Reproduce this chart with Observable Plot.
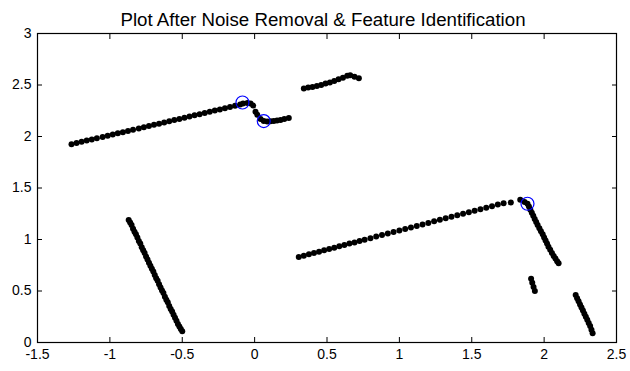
<!DOCTYPE html>
<html>
<head>
<meta charset="utf-8">
<script src="https://cdn.jsdelivr.net/npm/d3@7"></script>
<script src="https://cdn.jsdelivr.net/npm/@observablehq/plot@0.6"></script>
<style>
  html, body { margin: 0; padding: 0; background: #fff; }
  svg { display: block; }
</style>
</head>
<body>
<div id="chart"></div>
<script>
// Scan points that survived noise removal, grouped by wall segment (x, y in metres)
const wallUpperLeft = [
  [-1.265, 1.925], [-1.23, 1.937], [-1.195, 1.948], [-1.16, 1.96], [-1.125, 1.971],
  [-1.09, 1.983], [-1.05, 1.996], [-1.015, 2.008], [-0.98, 2.019], [-0.945, 2.031],
  [-0.91, 2.042], [-0.875, 2.054], [-0.84, 2.065], [-0.80, 2.078], [-0.765, 2.09],
  [-0.73, 2.102], [-0.695, 2.113], [-0.66, 2.125], [-0.625, 2.136], [-0.59, 2.148],
  [-0.555, 2.159], [-0.52, 2.171], [-0.485, 2.182], [-0.45, 2.194], [-0.415, 2.206],
  [-0.38, 2.217], [-0.345, 2.229], [-0.31, 2.24], [-0.275, 2.252], [-0.24, 2.263],
  [-0.205, 2.275], [-0.17, 2.287], [-0.135, 2.298], [-0.10, 2.31], [-0.08, 2.32],
  [-0.05, 2.325], [-0.028, 2.32], [-0.01, 2.30], [0.006, 2.24], [0.018, 2.21],
  [0.041, 2.17], [0.063, 2.15], [0.087, 2.145], [0.11, 2.147], [0.132, 2.15],
  [0.155, 2.155], [0.179, 2.16], [0.205, 2.17], [0.236, 2.18]
];
const wallUpperMid = [
  [0.34, 2.465], [0.37, 2.475], [0.40, 2.48], [0.43, 2.49], [0.46, 2.50],
  [0.49, 2.515], [0.52, 2.525], [0.55, 2.54], [0.58, 2.555], [0.61, 2.57],
  [0.64, 2.59], [0.66, 2.595], [0.69, 2.58], [0.72, 2.565]
];
const wallLowerLeft = [
  [-0.87, 1.19], [-0.86, 1.165], [-0.85, 1.14], [-0.84, 1.105], [-0.83, 1.075],
  [-0.82, 1.05], [-0.81, 1.02], [-0.80, 0.985], [-0.79, 0.96], [-0.78, 0.925],
  [-0.77, 0.895], [-0.76, 0.87], [-0.75, 0.835], [-0.74, 0.805], [-0.73, 0.775],
  [-0.72, 0.745], [-0.71, 0.715], [-0.70, 0.69], [-0.69, 0.655], [-0.68, 0.625],
  [-0.67, 0.60], [-0.66, 0.565], [-0.65, 0.535], [-0.64, 0.505], [-0.63, 0.48],
  [-0.62, 0.445], [-0.61, 0.415], [-0.60, 0.39], [-0.59, 0.355], [-0.58, 0.325],
  [-0.57, 0.30], [-0.56, 0.27], [-0.55, 0.24], [-0.54, 0.21], [-0.53, 0.18],
  [-0.52, 0.155], [-0.51, 0.13], [-0.50, 0.11]
];
const wallLowerMid = [
  [0.305, 0.83], [0.34, 0.843], [0.375, 0.856], [0.41, 0.869], [0.445, 0.882],
  [0.48, 0.895], [0.515, 0.908], [0.55, 0.921], [0.585, 0.934], [0.62, 0.947],
  [0.655, 0.96], [0.69, 0.972], [0.725, 0.985], [0.76, 0.998], [0.80, 1.013],
  [0.84, 1.028], [0.88, 1.043], [0.92, 1.058], [0.96, 1.072], [1.00, 1.087],
  [1.04, 1.102], [1.08, 1.117], [1.12, 1.132], [1.16, 1.146], [1.20, 1.161],
  [1.24, 1.176], [1.28, 1.191], [1.32, 1.206], [1.36, 1.22], [1.40, 1.235],
  [1.44, 1.25], [1.48, 1.265], [1.52, 1.28], [1.56, 1.294], [1.60, 1.309],
  [1.64, 1.324], [1.68, 1.339], [1.72, 1.352], [1.77, 1.36], [1.835, 1.385],
  [1.865, 1.365], [1.885, 1.347]
];
const wallRightDrop = [
  [1.895, 1.32], [1.905, 1.29], [1.915, 1.26], [1.925, 1.23], [1.935, 1.20],
  [1.945, 1.17], [1.955, 1.14], [1.967, 1.11], [1.978, 1.08], [1.99, 1.05],
  [2.0, 1.02], [2.01, 0.99], [2.02, 0.96], [2.03, 0.93], [2.042, 0.90],
  [2.054, 0.87], [2.066, 0.84], [2.078, 0.815], [2.09, 0.79], [2.10, 0.77]
];
const wallFragment = [
  [1.91, 0.62], [1.918, 0.58], [1.927, 0.54], [1.936, 0.50]
];
const wallRightLow = [
  [2.218, 0.46], [2.228, 0.43], [2.238, 0.40], [2.248, 0.37], [2.258, 0.34],
  [2.268, 0.31], [2.278, 0.28], [2.288, 0.25], [2.298, 0.22], [2.308, 0.19],
  [2.318, 0.16], [2.327, 0.125], [2.335, 0.09]
];

// Identified features (corners / breakpoints)
const featureX = [-0.084, 0.063, 1.885];
const featureY = [2.33, 2.15, 1.347];

const xTicks = [-1.5, -1, -0.5, 0, 0.5, 1, 1.5, 2, 2.5];
const yTicks = [0, 0.5, 1, 1.5, 2, 2.5, 3];
const xDomain = [-1.5, 2.5];
const yDomain = [0, 3];
const title = "Plot After Noise Removal & Feature Identification";

const points = [
  ...wallUpperLeft, ...wallUpperMid, ...wallLowerLeft, ...wallLowerMid,
  ...wallRightDrop, ...wallFragment, ...wallRightLow
].map(([x, y]) => ({x, y}));
const features = featureX.map((x, i) => ({x, y: featureY[i]}));

const fmt = d => String(d);
const blank = () => "";
const font = "'Liberation Sans', Arial, Helvetica, sans-serif";
const tick = 5;

const chart = Plot.plot({
  width: 630,
  height: 371,
  marginTop: 33,
  marginLeft: 37,
  marginRight: 14,
  marginBottom: 29,
  style: {fontFamily: font, fontSize: "14px", color: "black", background: "white"},
  x: {domain: xDomain},
  y: {domain: yDomain},
  marks: [
    Plot.dot(points, {x: "x", y: "y", r: 3, fill: "black", stroke: "none"}),
    Plot.dot(features, {x: "x", y: "y", r: 6.5, stroke: "#0000ff", strokeWidth: 1.2, fill: "none"}),
    // inward ticks on all four sides of the box (outward ticks shifted back inside)
    Plot.axisX(xTicks, {anchor: "bottom", tickSize: tick, dy: -tick, tickFormat: blank, label: null, stroke: "black"}),
    Plot.axisX(xTicks, {anchor: "top", tickSize: tick, dy: tick, tickFormat: blank, label: null, stroke: "black"}),
    Plot.axisY(yTicks, {anchor: "left", tickSize: tick, dx: tick, tickFormat: blank, label: null, stroke: "black"}),
    Plot.axisY(yTicks, {anchor: "right", tickSize: tick, dx: -tick, tickFormat: blank, label: null, stroke: "black"}),
    // tick labels
    Plot.axisX(xTicks, {anchor: "bottom", tickSize: 0, tickPadding: 7, tickFormat: fmt, label: null, fontSize: 14}),
    Plot.axisY(yTicks, {anchor: "left", tickSize: 0, tickPadding: 6, tickFormat: fmt, label: null, fontSize: 14}),
    Plot.frame({stroke: "black", strokeWidth: 1.2}),
    Plot.text([title], {frameAnchor: "top", dy: -21, dx: -4, fontSize: 18.7, fill: "black"})
  ]
});

document.getElementById("chart").appendChild(chart);
</script>
</body>
</html>
